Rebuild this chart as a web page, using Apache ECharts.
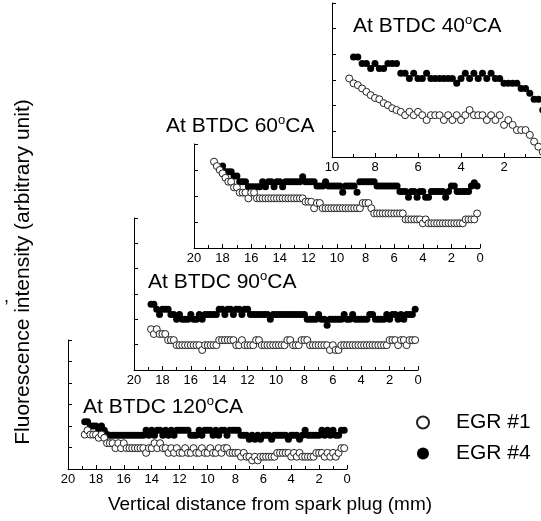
<!DOCTYPE html>
<html>
<head>
<meta charset="utf-8">
<script src="https://cdn.jsdelivr.net/npm/echarts@6/dist/echarts.min.js"></script>
<style>
  html, body { margin: 0; padding: 0; background: #fff; }
  #chart { width: 541px; height: 521px; }
</style>
</head>
<body>
<div id="chart"></div>
<script>
// sampling positions (mm from spark plug), shared by every panel
const dist = [
  18.8, 18.6, 18.4, 18.2, 18.0, 17.8, 17.6, 17.4, 17.2, 17.0,
  16.8, 16.6, 16.4, 16.2, 16.0, 15.8, 15.6, 15.4, 15.2, 15.0,
  14.8, 14.6, 14.4, 14.2, 14.0, 13.8, 13.6, 13.4, 13.2, 13.0,
  12.8, 12.6, 12.4, 12.2, 12.0, 11.8, 11.6, 11.4, 11.2, 11.0,
  10.8, 10.6, 10.4, 10.2, 10.0, 9.8, 9.6, 9.4, 9.2, 9.0,
  8.8, 8.6, 8.4, 8.2, 8.0, 7.8, 7.6, 7.4, 7.2, 7.0,
  6.8, 6.6, 6.4, 6.2, 6.0, 5.8, 5.6, 5.4, 5.2, 5.0,
  4.8, 4.6, 4.4, 4.2, 4.0, 3.8, 3.6, 3.4, 3.2, 3.0,
  2.8, 2.6, 2.4, 2.2, 2.0, 1.8, 1.6, 1.4, 1.2, 1.0,
  0.8, 0.6, 0.4, 0.2
];

// BTDC 40 CA (starts at 9.2 mm)
const egr4_40 = [
  null, 3.9, 3.9, 3.64, 3.64, 3.45, 3.64, 3.45, 3.45, 3.64,
  3.64, 3.64, 3.26, 3.26, 3.06, 3.26, 3.06, 3.06, 3.26, 3.06,
  3.06, 3.06, 3.06, 3.06, 3.06, 2.87, 3.06, 3.26, 3.06, 3.26,
  3.06, 3.26, 3.06, 3.26, 3.06, 3.06, 2.87, 2.87, 2.87, 2.87,
  2.67, 2.67, 2.48, 2.25, 2.25, 1.83
];
const egr1_40 = [
  3.06, 2.87, 2.8, 2.67, 2.54, 2.41, 2.3, 2.25, 2.1, 2.02,
  1.9, 1.83, 1.76, 1.63, 1.76, 1.63, 1.76, 1.63, 1.44, 1.63,
  1.63, 1.63, 1.44, 1.63, 1.44, 1.63, 1.44, 1.63, 1.83, 1.63,
  1.63, 1.63, 1.44, 1.63, 1.44, 1.63, 1.25, 1.44, 1.25, 1.05,
  1.05, 1.05, 0.86, 0.6, 0.4, 0.2
];

// BTDC 60 CA
const egr4_60 = [
  null, null, null, null, 3.15, 2.93, 2.93, 2.93, 2.77, 2.77,
  2.55, 2.55, 2.55, 2.36, 2.36, 2.36, 2.36, 2.36, 2.55, 2.36,
  2.55, 2.55, 2.36, 2.55, 2.55, 2.36, 2.55, 2.55, 2.55, 2.55,
  2.55, 2.55, 2.74, 2.55, 2.55, 2.55, 2.55, 2.38, 2.38, 2.38,
  2.55, 2.38, 2.38, 2.38, 2.38, 2.38, 2.14, 2.38, 2.38, 2.38,
  2.38, 2.14, 2.55, 2.55, 2.55, 2.55, 2.55, 2.55, 2.38, 2.38,
  2.38, 2.38, 2.38, 2.38, 2.38, 2.38, 2.17, 2.17, 2.17, 1.95,
  2.17, 2.17, 1.95, 2.17, 2.17, 1.95, 1.95, 2.17, 2.17, 2.17,
  2.17, 2.17, 1.95, 2.17, 2.38, 2.38, 2.17, 2.17, 2.17, 2.17,
  2.17, 2.38, 2.51, 2.38
];
const egr1_60 = [
  null, 3.32, 3.15, 3.0, 2.87, 2.7, 2.55, 2.55, 2.33, 2.33,
  2.13, 2.13, 2.13, 1.91, 2.13, 2.13, 1.91, 1.91, 1.91, 1.91,
  1.91, 1.91, 1.91, 1.91, 1.91, 1.91, 1.91, 1.91, 1.91, 1.91,
  1.91, 1.91, 1.91, 1.78, 1.78, 1.78, 1.53, 1.73, 1.73, 1.53,
  1.53, 1.53, 1.53, 1.53, 1.53, 1.53, 1.53, 1.53, 1.53, 1.53,
  1.53, 1.53, 1.53, 1.73, 1.73, 1.73, 1.53, 1.33, 1.33, 1.33,
  1.33, 1.33, 1.33, 1.33, 1.33, 1.33, 1.33, 1.33, 1.1, 1.1,
  1.1, 1.1, 1.1, 1.1, 0.95, 1.1, 0.95, 0.95, 0.95, 0.95,
  0.95, 0.95, 0.95, 0.95, 0.95, 0.95, 0.95, 0.95, 0.95, 1.1,
  1.1, 1.1, 1.1, 1.33
];

// BTDC 90 CA
const egr4_90 = [
  2.6, 2.6, 2.4, 2.19, 2.4, 2.4, 2.4, 2.19, 2.19, 2.0,
  2.19, 2.0, 2.0, 2.0, 2.19, 2.0, 2.0, 2.19, 2.0, 2.19,
  2.19, 2.19, 2.19, 2.19, 2.4, 2.4, 2.19, 2.4, 2.4, 2.19,
  2.4, 2.4, 2.19, 2.4, 2.4, 2.19, 2.19, 2.19, 2.19, 2.19,
  2.19, 2.19, 2.0, 2.19, 2.19, 2.19, 2.19, 2.19, 2.19, 2.19,
  2.19, 2.19, 2.19, 2.19, 2.19, 2.0, 2.0, 2.0, 2.0, 2.19,
  2.0, 2.0, 1.77, 2.0, 2.0, 2.0, 2.0, 2.0, 2.19, 2.0,
  2.0, 2.19, 2.0, 2.0, 2.0, 2.0, 2.0, 2.19, 2.19, 2.0,
  2.0, 2.0, 2.0, 2.19, 2.0, 2.19, 2.19, 2.0, 2.19, 2.0,
  2.19, 2.19, 2.19, 2.4
];
const egr1_90 = [
  1.61, 1.42, 1.61, 1.42, 1.42, 1.42, 1.18, 1.18, 1.18, 0.98,
  0.98, 0.98, 0.98, 0.98, 0.98, 0.98, 0.98, 0.98, 0.79, 0.98,
  0.98, 0.98, 0.98, 0.98, 1.18, 1.18, 1.18, 1.18, 1.18, 1.18,
  0.98, 0.98, 1.18, 0.98, 0.98, 0.98, 0.98, 1.18, 1.18, 0.98,
  0.98, 0.98, 0.98, 0.98, 0.98, 0.98, 0.98, 0.98, 1.18, 1.18,
  0.98, 0.98, 0.98, 1.18, 1.18, 1.18, 0.98, 0.98, 0.98, 0.98,
  0.98, 0.98, 0.98, 0.79, 0.98, 0.79, 0.79, 0.98, 0.98, 0.98,
  0.98, 0.98, 0.98, 0.98, 0.98, 0.98, 0.98, 0.98, 0.98, 0.98,
  0.98, 0.98, 0.98, 0.98, 1.18, 1.18, 1.18, 0.98, 1.18, 1.18,
  0.98, 1.18, 1.18, 1.18
];

// BTDC 120 CA
const egr4_120 = [
  2.2, 2.2, 2.0, 2.0, 2.0, 1.8, 2.0, 1.8, 1.6, 1.57,
  1.57, 1.57, 1.57, 1.57, 1.57, 1.57, 1.57, 1.57, 1.57, 1.57,
  1.57, 1.57, 1.8, 1.57, 1.8, 1.57, 1.8, 1.8, 1.57, 1.8,
  1.57, 1.8, 1.57, 1.8, 1.8, 1.8, 1.8, 1.8, 1.57, 1.57,
  1.57, 1.8, 1.57, 1.8, 1.8, 1.8, 1.57, 1.8, 1.57, 1.8,
  1.8, 1.57, 1.8, 1.8, 1.8, 1.8, 1.57, 1.57, 1.57, 1.38,
  1.57, 1.38, 1.57, 1.38, 1.57, 1.57, 1.57, 1.38, 1.57, 1.57,
  1.57, 1.57, 1.57, 1.38, 1.57, 1.57, 1.57, 1.38, 1.57, 1.8,
  1.57, 1.57, 1.57, 1.57, 1.57, 1.8, 1.57, 1.8, 1.57, 1.8,
  1.57, 1.57, 1.8, 1.8
];
const egr1_120 = [
  1.6, 1.8, 1.6, 1.6, 1.6, 1.45, 1.6, 1.45, 1.2, 1.2,
  1.2, 0.97, 1.2, 0.97, 1.2, 0.97, 0.97, 0.97, 0.97, 0.97,
  0.97, 0.97, 0.75, 0.97, 0.97, 1.2, 0.97, 1.2, 0.97, 0.97,
  0.75, 0.97, 0.75, 0.97, 0.75, 0.75, 0.97, 0.75, 0.75, 0.97,
  0.75, 0.75, 0.97, 0.75, 0.75, 0.97, 0.75, 0.75, 0.97, 0.75,
  0.97, 0.97, 0.75, 0.75, 0.75, 0.75, 0.57, 0.75, 0.57, 0.57,
  0.4, 0.57, 0.4, 0.57, 0.57, 0.57, 0.57, 0.57, 0.57, 0.75,
  0.75, 0.75, 0.75, 0.75, 0.57, 0.75, 0.57, 0.75, 0.57, 0.57,
  0.57, 0.57, 0.57, 0.75, 0.75, 0.75, 0.57, 0.75, 0.57, 0.75,
  0.57, 0.75, 0.97, 0.97
];

const FONT = '"Liberation Sans", Arial, Helvetica, sans-serif';

// layout of the cascaded panels (back to front)
const panels = [
  { deg: '40', from: 48, xMax: 10, yMax: 6, grid: { left: 332, top: 3, width: 215, height: 154 }, title: [353, 14], open: egr1_40, filled: egr4_40 },
  { deg: '60', from: 0, xMax: 20, yMax: 4, grid: { left: 194, top: 144, width: 286, height: 104 }, title: [166, 114], open: egr1_60, filled: egr4_60 },
  { deg: '90', from: 0, xMax: 20, yMax: 6, grid: { left: 134, top: 218, width: 284, height: 152 }, title: [148, 270], open: egr1_90, filled: egr4_90 },
  { deg: '120', from: 0, xMax: 20, yMax: 6, grid: { left: 68, top: 340, width: 279, height: 129 }, title: [83, 395], open: egr1_120, filled: egr4_120 }
];

function pairs(values, from) {
  const out = [];
  values.forEach((v, i) => {
    if (v !== null) out.push([dist[from + i], v]);
  });
  return out;
}

const grids = [], xAxes = [], yAxes = [], series = [], graphics = [];

panels.forEach((p, k) => {
  grids.push(Object.assign({ outerBoundsMode: 'none' }, p.grid));
  xAxes.push({
    gridIndex: k, type: 'value', inverse: true, min: 0, max: p.xMax, interval: 2,
    axisLine: { onZero: false, lineStyle: { color: '#000', width: 1 } },
    axisTick: { inside: true, length: 4, lineStyle: { color: '#000' } },
    minorTick: { show: true, splitNumber: 2, length: 3, lineStyle: { color: '#000' } },
    splitLine: { show: false },
    axisLabel: { color: '#000', fontSize: 13, fontFamily: FONT, margin: 4 }
  });
  yAxes.push({
    gridIndex: k, type: 'value', position: 'left', min: 0, max: p.yMax, interval: 1,
    axisLine: { show: true, onZero: false, lineStyle: { color: '#000', width: 1 } },
    axisTick: { show: true, inside: true, length: 4, lineStyle: { color: '#000' } },
    splitLine: { show: false },
    axisLabel: { show: false }
  });
  series.push({
    name: 'EGR #4', type: 'scatter', xAxisIndex: k, yAxisIndex: k,
    symbol: 'circle', symbolSize: 7,
    itemStyle: { color: '#000', opacity: 1 },
    data: pairs(p.filled, p.from)
  });
  series.push({
    name: 'EGR #1', type: 'scatter', xAxisIndex: k, yAxisIndex: k,
    symbol: 'circle', symbolSize: 7,
    itemStyle: { color: '#fff', borderColor: '#222', borderWidth: 1, opacity: 1 },
    data: pairs(p.open, p.from)
  });
  graphics.push({
    type: 'text', left: p.title[0], top: p.title[1], z: 10,
    style: {
      text: '{a|At BTDC ' + p.deg + '}{s|o}{a|CA}',
      rich: {
        a: { fontSize: 21, fontFamily: FONT, fill: '#000', lineHeight: 24 },
        s: { fontSize: 13, fontFamily: FONT, fill: '#000', lineHeight: 13, verticalAlign: 'top' }
      }
    }
  });
});

graphics.push({
  type: 'text', x: 23, y: 272, rotation: Math.PI / 2,
  style: { text: 'Fluorescence intensity (arbitrary unit)', fontSize: 21, fontFamily: FONT, fill: '#000', align: 'center', verticalAlign: 'middle' }
});
graphics.push({
  type: 'text', x: 270, y: 505,
  style: { text: 'Vertical distance from spark plug (mm)', fontSize: 19, fontFamily: FONT, fill: '#000', align: 'center', verticalAlign: 'middle' }
});
graphics.push({
  type: 'text', left: 4, top: 288,
  style: { text: ',', fontSize: 18, fontFamily: FONT, fill: '#000' }
});

const chart = echarts.init(document.getElementById('chart'));
chart.setOption({
  animation: false,
  backgroundColor: '#fff',
  grid: grids,
  xAxis: xAxes,
  yAxis: yAxes,
  series: series,
  graphic: graphics,
  legend: {
    orient: 'vertical', left: 411, top: 407,
    itemWidth: 12, itemHeight: 12, itemGap: 10,
    data: ['EGR #1', 'EGR #4'],
    itemStyle: { opacity: 1 },
    textStyle: { fontSize: 21, fontFamily: FONT, color: '#000', padding: [0, 0, 0, 22] }
  }
});
</script>
</body>
</html>
